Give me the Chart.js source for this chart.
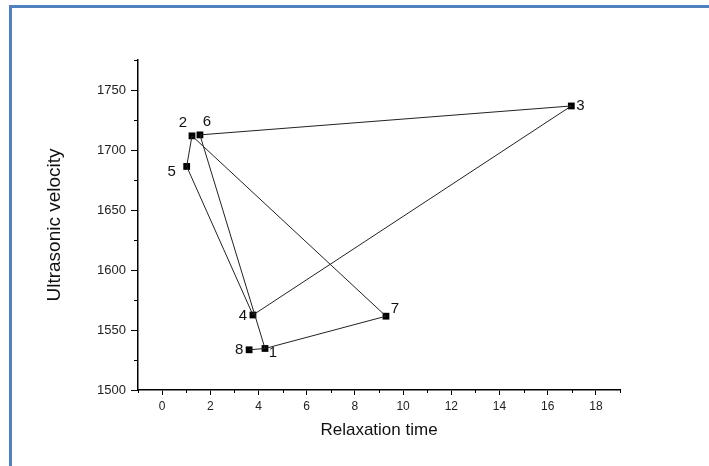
<!DOCTYPE html>
<html>
<head>
<meta charset="utf-8">
<script src="https://cdn.jsdelivr.net/npm/chart.js@4.4.1/dist/chart.umd.min.js"></script>
<style>
  html, body { margin: 0; padding: 0; background: #fff; }
  #wrap { position: relative; width: 709px; height: 466px; overflow: hidden; }
  #frame { position: absolute; left: 9px; top: 5px; width: 760px; height: 520px;
           border-left: 3px solid #4f81bd; border-top: 3px solid #4f81bd; }
  canvas { position: absolute; left: 0; top: 0; }
</style>
</head>
<body>
<div id="wrap">
  <canvas id="chart" width="709" height="466"></canvas>
  <div id="frame"></div>
</div>
<script>
// sample numbers and their readings
const pointLabels = ['1', '2', '3', '4', '5', '6', '7', '8'];
const relaxationTime = [4.27, 1.24, 16.98, 3.77, 1.02, 1.57, 9.29, 3.61];
const ultrasonicVelocity = [1534.6, 1711.8, 1736.7, 1562.5, 1686.3, 1712.6, 1561.5, 1533.5];
// order the connecting line visits the samples (1-based)
const pathOrder = [8, 1, 7, 2, 5, 4, 3, 6, 1];

const xTicks = [0, 2, 4, 6, 8, 10, 12, 14, 16, 18];
const xMinorTicks = [-1, 1, 3, 5, 7, 9, 11, 13, 15, 17, 19];
const yTicks = [1500, 1550, 1600, 1650, 1700, 1750];
const yMinorTicks = [1525, 1575, 1625, 1675, 1725, 1775];

// where each number sits relative to its marker (px)
const labelOffsets = [[8, 4], [-9, -13], [9, 0], [-10, 1], [-15, 5], [7, -13], [9, -7], [-10, 0]];

const points = relaxationTime.map((x, i) => ({ x, y: ultrasonicVelocity[i] }));
const path = pathOrder.map(n => points[n - 1]);

const extras = {
  id: 'extras',
  afterDraw(chart) {
    const { ctx, scales: { x, y } } = chart;
    ctx.save();
    ctx.strokeStyle = '#000';
    ctx.lineWidth = 1;
    ctx.beginPath();
    xMinorTicks.forEach(v => {
      const px = Math.round(x.getPixelForValue(v)) + 0.5;
      ctx.moveTo(px, y.bottom);
      ctx.lineTo(px, y.bottom + 3);
    });
    yMinorTicks.forEach(v => {
      const py = Math.round(y.getPixelForValue(v)) + 0.5;
      ctx.moveTo(x.left, py);
      ctx.lineTo(x.left - 4, py);
    });
    ctx.stroke();

    const meta = chart.getDatasetMeta(1);
    ctx.fillStyle = '#111';
    ctx.font = '15px "Liberation Sans", Arial, sans-serif';
    ctx.textAlign = 'center';
    ctx.textBaseline = 'middle';
    meta.data.forEach((el, i) => {
      const [dx, dy] = labelOffsets[i];
      ctx.fillText(pointLabels[i], el.x + dx, el.y + dy);
    });
    ctx.restore();
  }
};

const fontFamily = '"Liberation Sans", Arial, sans-serif';

new Chart(document.getElementById('chart'), {
  type: 'scatter',
  data: {
    datasets: [
      {
        data: path,
        showLine: true,
        borderColor: '#222',
        borderWidth: 1,
        pointRadius: 0,
        tension: 0
      },
      {
        data: points,
        pointStyle: 'rect',
        pointRadius: 4.8,
        pointBackgroundColor: '#000',
        pointBorderColor: '#000',
        pointBorderWidth: 0
      }
    ]
  },
  options: {
    responsive: false,
    animation: false,
    layout: { padding: { top: 60, right: 89, left: 0, bottom: 0 } },
    plugins: { legend: { display: false }, tooltip: { enabled: false } },
    scales: {
      x: {
        min: -1, max: 19,
        afterBuildTicks: s => { s.ticks = xTicks.map(value => ({ value })); },
        afterFit: s => { s.height = 76; },
        grid: { drawOnChartArea: false, tickLength: 5, color: '#000', tickWidth: 1 },
        border: { display: true, color: '#000', width: 1.5 },
        ticks: { color: '#222', font: { family: fontFamily, size: 12 }, padding: 4, maxRotation: 0,
                 callback: v => String(v) },
        title: {
          display: true, text: 'Relaxation time', color: '#111',
          font: { family: fontFamily, size: 17 },
          padding: { top: 0, bottom: 25 }
        }
      },
      y: {
        min: 1500, max: 1775,
        afterBuildTicks: s => { s.ticks = yTicks.map(value => ({ value })); },
        afterFit: s => { s.width = 138; },
        grid: { drawOnChartArea: false, tickLength: 7, color: '#000', tickWidth: 1 },
        border: { display: true, color: '#000', width: 1.5 },
        ticks: { color: '#222', font: { family: fontFamily, size: 13 }, padding: 5,
                 callback: v => String(v) },
        title: {
          display: true, text: 'Ultrasonic velocity', color: '#111',
          font: { family: fontFamily, size: 19 },
          padding: { top: 43, bottom: 0 }
        }
      }
    }
  },
  plugins: [extras]
});
</script>
</body>
</html>
